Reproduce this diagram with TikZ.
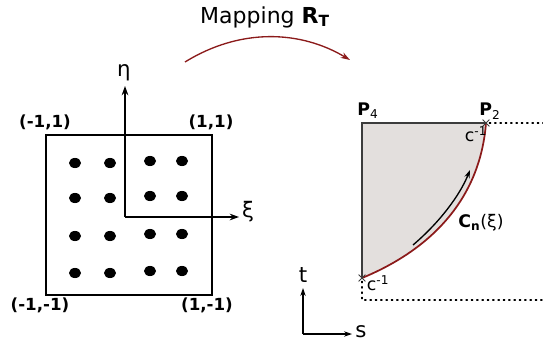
\documentclass[tikz,border=0pt]{standalone}
\usepackage{fontspec}
\setmainfont{DejaVu Sans}
\usepackage{tikz}
\usetikzlibrary{shapes.geometric, shapes.misc, arrows.meta, positioning}
\definecolor{mapred}{RGB}{139, 26, 26}
\definecolor{regiongray}{RGB}{227, 223, 221}
\definecolor{edgegray}{RGB}{60, 60, 60}
\tikzset{
  cornerlabel/.style={
    inner sep=0pt, font=\fontsize{12.5}{14}\selectfont\bfseries
  },
  axislabel/.style={
    inner sep=0pt, font=\fontsize{16}{18}\selectfont
  },
  pointlabel/.style={
    inner sep=0pt, font=\fontsize{13}{15}\selectfont
  },
  gausspt/.style={
    ellipse, fill=black, inner sep=0pt,
    minimum width=9pt, minimum height=7.6pt
  },
  refbox/.style={draw=black, line width=1.1pt},
  axisarrow/.style={line width=1.1pt, -{Stealth[length=7pt, width=5pt]}},
  thinarrow/.style={line width=0.8pt, -{Stealth[length=6pt, width=4pt]}},
  maparrow/.style={draw=mapred, line width=1pt, -{Stealth[length=7pt, width=4.5pt]}},
  edgeline/.style={draw=edgegray, line width=1.3pt},
  curveline/.style={draw=mapred, line width=1.3pt},
  dotline/.style={line width=1pt, dash pattern=on 1pt off 3pt, line cap=round},
  xmark/.style={cross out, draw=edgegray, line width=0.6pt,
    minimum size=4.5pt, inner sep=0pt}
}

\begin{document}
\begin{tikzpicture}[x=0.75pt, y=-0.75pt]
  \useasboundingbox (0,0) rectangle (543,343);

  %% — — — Reference square — — —
  \node[refbox, minimum width=124.5pt, minimum height=120pt, inner sep=0pt]
    (square) at (129,215) {};
  \node[cornerlabel] (ll) at (45,122) {(-1,1)};
  \node[cornerlabel] (lr) at (211,122) {(1,1)};
  \node[cornerlabel] (ul) at (40,305) {(-1,-1)};
  \node[cornerlabel] (ur) at (207,305) {(1,-1)};

  %% — — — Quadrature points — — —
  \foreach \i/\x/\dy in {1/75/0, 2/110/0, 3/150/-2, 4/182/-2} {
    \foreach \j/\y in {1/163, 2/198, 3/236, 4/273} {
      \node[gausspt] (gp-\i-\j) at (\x,\y+\dy) {};
    }
  }

  %% — — — Local axes — — —
  \coordinate (origin) at (125,217);
  \coordinate (etaend) at (125,86);
  \coordinate (xiend) at (239,217);
  \draw[axisarrow] (origin) -- (etaend);
  \draw[axisarrow] (origin) -- (xiend);
  \node[axislabel] (eta) at (124,73) {η};
  \node[axislabel] (xi) at (248,212) {ξ};

  %% — — — Mapping — — —
  \node[font=\fontsize{16.5}{18}\selectfont] (maptext) at (265,17)
    {Mapping \textbf{R\textsubscript{T}}};
  \coordinate (mapstart) at (185,62);
  \coordinate (mapend) at (350,60);
  \draw[maparrow] (mapstart) .. controls (240,28) and (300,30) .. (mapend);

  %% — — — Physical element — — —
  \coordinate (p4) at (362,123);
  \coordinate (p2) at (486,123);
  \coordinate (c0) at (362,278);
  \fill[regiongray] (p4) -- (p2) .. controls (480,200) and (430,250) .. (c0) -- cycle;
  \draw[edgeline] (c0) -- (p4) -- (p2);
  \draw[curveline] (p2) .. controls (480,200) and (430,250) .. (c0);

  \node[xmark] (p2mark) at (p2) {};
  \node[xmark] (c0mark) at (c0) {};

  \node[font=\fontsize{13}{15}\selectfont\bfseries, inner sep=0pt] (p4label)
    at (368,111) {P\textsubscript{\mdseries 4}};
  \node[font=\fontsize{13}{15}\selectfont\bfseries, inner sep=0pt] (p2label)
    at (490,111) {P\textsubscript{\mdseries 2}};
  \node[pointlabel] (ctop) at (476,134) {c\textsuperscript{-1}};
  \node[pointlabel] (cbot) at (378,283) {c\textsuperscript{-1}};
  \node[font=\fontsize{13}{15}\selectfont, inner sep=0pt] (cnlabel)
    at (481,223) {\textbf{C}\textsubscript{\textbf{n}}(ξ)};

  %% — — — Orientation arrow — — —
  \coordinate (flowstart) at (413,245);
  \coordinate (flowend) at (470,170);
  \draw[thinarrow, line width=1pt] (flowstart) .. controls (440,222) and (460,195) .. (flowend);

  %% — — — Dotted guides — — —
  \coordinate (topright) at (543,123);
  \coordinate (botcorner) at (362,300);
  \coordinate (botright) at (543,300);
  \draw[dotline] (p2mark) -- (topright);
  \draw[dotline] (c0mark) -- (botcorner) -- (botright);

  %% — — — Global axes — — —
  \coordinate (gorigin) at (303,334);
  \coordinate (tend) at (303,288);
  \coordinate (send) at (352,334);
  \draw[thinarrow] (gorigin) -- (tend);
  \draw[thinarrow] (gorigin) -- (send);
  \node[axislabel] (tlabel) at (303,275) {t};
  \node[axislabel] (slabel) at (361,332) {s};

\end{tikzpicture}
\end{document}
